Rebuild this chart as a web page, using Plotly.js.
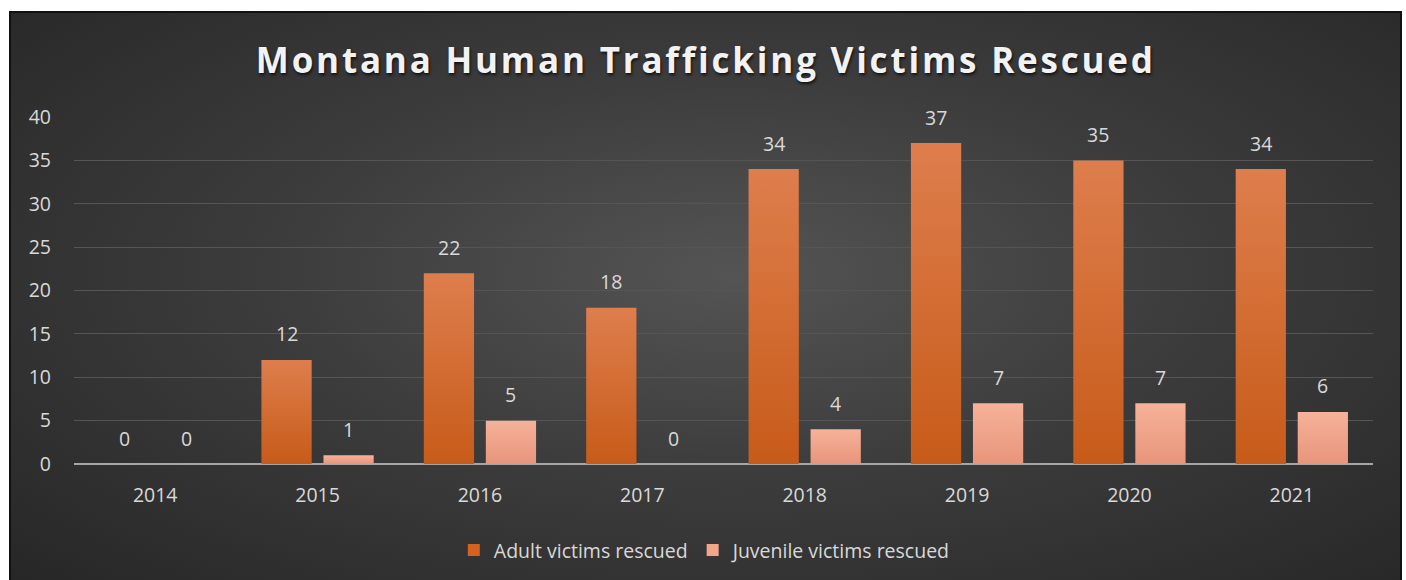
<!DOCTYPE html>
<html>
<head>
<meta charset="utf-8">
<script src="https://cdn.plot.ly/plotly-3.0.1.min.js"></script>
<style>
    body { margin: 0; background: #ffffff; }
    #frame {
        position: absolute; left: 9px; top: 11px; width: 1389px; height: 580px;
        border: 2px solid #111111;
        background: radial-gradient(ellipse at 52% 45%, #545454 0%, #3c3c3c 45%, #262626 100%);
    }
    #plot { position: absolute; left: 0; top: 0; width: 1406px; height: 580px; }
    .gtitle { letter-spacing: 2.8px; }
</style>
</head>
<body>
<div id="frame"></div>
<div id="plot"></div>
<script>
document.addEventListener('DOMContentLoaded', function () {

    // Данные
    var years = ['2014', '2015', '2016', '2017', '2018', '2019', '2020', '2021'];
    var adult = [0, 12, 22, 18, 34, 37, 35, 34];
    var juvenile = [0, 1, 5, 0, 4, 7, 7, 6];
    var yTicks = [0, 5, 10, 15, 20, 25, 30, 35, 40];

    var labelFont = { family: 'Open Sans, sans-serif', size: 19.5, color: '#d9d9d9' };

    var trace1 = {
        x: years,
        y: adult,
        type: 'bar',
        name: 'Adult victims rescued',
        marker: { color: '#d4631f' },
        hoverinfo: 'y'
    };

    var trace2 = {
        x: years,
        y: juvenile,
        type: 'bar',
        name: 'Juvenile victims rescued',
        marker: { color: '#f2a587' },
        hoverinfo: 'y'
    };

    // подписи над столбцами
    var annotations = [];
    years.forEach(function (yr, i) {
        annotations.push({ x: yr, y: adult[i], xref: 'x', yref: 'y', text: String(adult[i]),
            showarrow: false, xshift: -31, yshift: 26, font: labelFont });
        annotations.push({ x: yr, y: juvenile[i], xref: 'x', yref: 'y', text: String(juvenile[i]),
            showarrow: false, xshift: 31, yshift: 26, font: labelFont });
    });

    var layout = {
        width: 1406,
        height: 580,
        paper_bgcolor: 'rgba(0,0,0,0)',
        plot_bgcolor: 'rgba(0,0,0,0)',
        margin: { l: 74, r: 33, t: 117, b: 115 },
        title: {
            text: '<b>Montana Human Trafficking Victims Rescued</b>',
            x: 0.502,
            xanchor: 'center',
            y: 0.895,
            yanchor: 'middle',
            font: { family: 'Open Sans, sans-serif', size: 35, color: '#f2f2f2',
                shadow: '1px 2px 3px rgba(0,0,0,0.7)' }
        },
        barmode: 'group',
        bargap: 0.236,
        bargroupgap: 0.19,
        xaxis: {
            tickfont: labelFont,
            showline: false,
            ticks: '',
            ticklabelstandoff: 17,
            fixedrange: true
        },
        yaxis: {
            range: [0, 40],
            tickvals: yTicks,
            tickfont: labelFont,
            gridcolor: '#555555',
            gridwidth: 1,
            zeroline: true,
            zerolinecolor: '#a6a6a6',
            zerolinewidth: 2,
            ticks: '',
            ticklabelstandoff: 22,
            fixedrange: true
        },
        legend: {
            orientation: 'h',
            x: 0.486,
            xanchor: 'center',
            y: -0.245,
            yanchor: 'middle',
            font: labelFont,
            itemwidth: 30,
            traceorder: 'normal'
        },
        annotations: annotations
    };

    Plotly.newPlot('plot', [trace1, trace2], layout, { displayModeBar: false, staticPlot: true })
        .then(function (gd) {
            // градиент на столбцах
            var svg = gd.querySelector('svg.main-svg');
            var ns = 'http://www.w3.org/2000/svg';
            var defs = document.createElementNS(ns, 'defs');
            var stops = [['gradAdult', '#de7e4d', '#c75b19'], ['gradJuv', '#f6b29a', '#e8957a']];
            stops.forEach(function (s) {
                var lg = document.createElementNS(ns, 'linearGradient');
                lg.setAttribute('id', s[0]);
                lg.setAttribute('x1', '0'); lg.setAttribute('y1', '0');
                lg.setAttribute('x2', '0'); lg.setAttribute('y2', '1');
                [[0, s[1]], [1, s[2]]].forEach(function (st) {
                    var stop = document.createElementNS(ns, 'stop');
                    stop.setAttribute('offset', st[0]);
                    stop.setAttribute('stop-color', st[1]);
                    lg.appendChild(stop);
                });
                defs.appendChild(lg);
            });
            svg.insertBefore(defs, svg.firstChild);
            var traces = gd.querySelectorAll('g.trace.bars');
            traces.forEach(function (t, i) {
                t.querySelectorAll('path').forEach(function (p) {
                    p.style.fill = 'url(#' + stops[i][0] + ')';
                });
            });
        });
});
</script>
</body>
</html>
